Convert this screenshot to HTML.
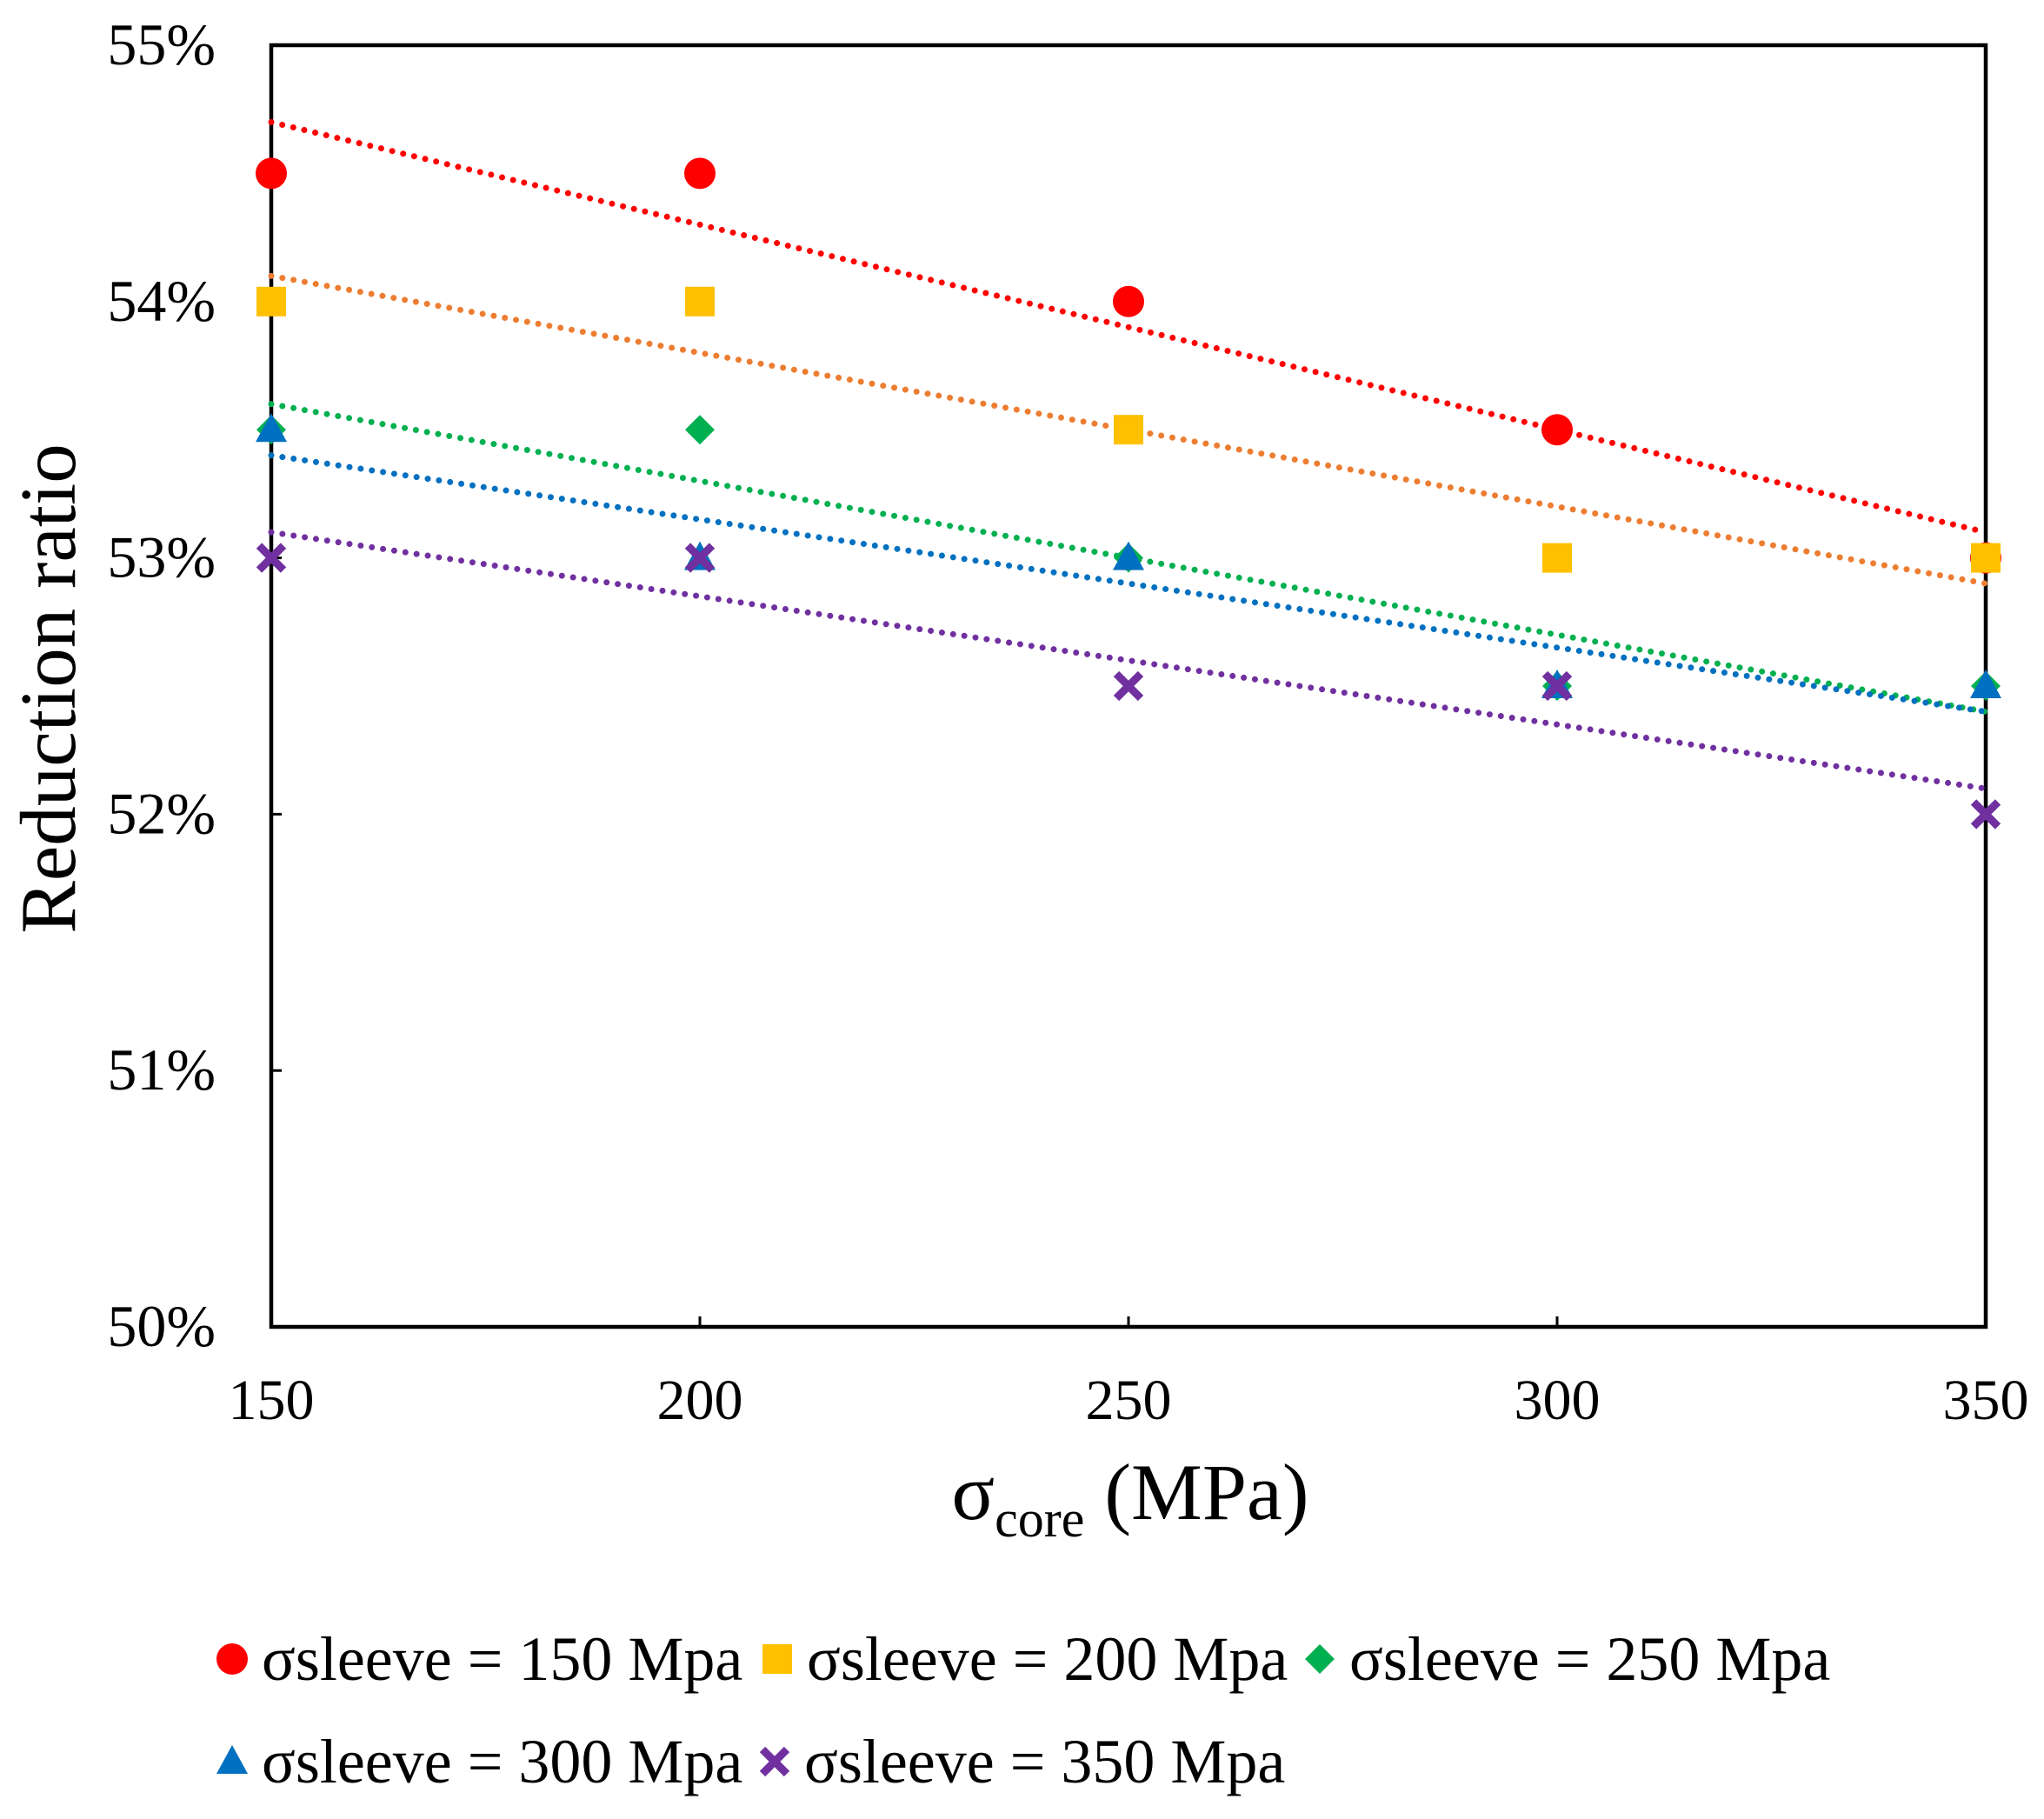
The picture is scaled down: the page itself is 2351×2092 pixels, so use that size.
<!DOCTYPE html>
<html><head><meta charset="utf-8"><style>
html,body{margin:0;padding:0;background:#fff;}
svg{display:block;font-family:"Liberation Serif",serif;}
</style></head><body>
<svg id="chart" width="2351" height="2092" viewBox="0 0 2351 2092" xmlns="http://www.w3.org/2000/svg">
<rect width="2351" height="2092" fill="#fff"/>
<g id="plot"></g>
</svg>
<script>
const xCats = [150, 200, 250, 300, 350];
const yTicks = [0.50, 0.51, 0.52, 0.53, 0.54, 0.55];
const yTickLabels = ["50%", "51%", "52%", "53%", "54%", "55%"];
const s150 = [54.5, 54.5, 54.0, 53.5, 53.0];
const s200 = [54.0, 54.0, 53.5, 53.0, 53.0];
const s250 = [53.5, 53.5, 53.0, 52.5, 52.5];
const s300 = [53.5, 53.0, 53.0, 52.5, 52.5];
const s350 = [53.0, 53.0, 52.5, 52.5, 52.0];
const seriesNames = ["σsleeve = 150 Mpa","σsleeve = 200 Mpa","σsleeve = 250 Mpa","σsleeve = 300 Mpa","σsleeve = 350 Mpa"];

const NS = "http://www.w3.org/2000/svg";
const L = 312, R = 2284, T = 52, B = 1526;
const xs = v => L + (v - 150) / 200 * (R - L);
const ys = v => B - (v - 50) / 5 * (B - T);
const g = document.getElementById('plot');
function mk(tag, attrs, parent) {
  const e = document.createElementNS(NS, tag);
  for (const k in attrs) e.setAttribute(k, attrs[k]);
  (parent || g).appendChild(e);
  return e;
}
const series = [
  {d: s150, mc: "#FF0000", lc: "#FF0000", shape: "circle", key: "150"},
  {d: s200, mc: "#FFC000", lc: "#ED7D31", shape: "square", key: "200"},
  {d: s250, mc: "#00B050", lc: "#00B050", shape: "diamond", key: "250"},
  {d: s300, mc: "#0070C0", lc: "#0070C0", shape: "triangle", key: "300"},
  {d: s350, mc: "#7030A0", lc: "#7030A0", shape: "x", key: "350"}
];
function marker(shape, cx, cy, c, parent) {
  let e;
  if (shape === "circle") e = mk("circle", {cx, cy, r: 18, fill: c}, parent);
  else if (shape === "square") e = mk("rect", {x: cx-17, y: cy-17, width: 34, height: 34, fill: c}, parent);
  else if (shape === "diamond") e = mk("polygon", {points: `${cx},${cy-17} ${cx+17},${cy} ${cx},${cy+17} ${cx-17},${cy}`, fill: c}, parent);
  else if (shape === "triangle") e = mk("polygon", {points: `${cx},${cy-19} ${cx+18},${cy+14} ${cx-18},${cy+14}`, fill: c}, parent);
  else e = mk("path", {d: `M${cx-14},${cy-14}L${cx+14},${cy+14}M${cx+14},${cy-14}L${cx-14},${cy+14}`, stroke: c, "stroke-width": 9}, parent);
  return e;
}
const frame = mk("rect", {x: L, y: T, width: R-L, height: B-T, fill: "none", stroke: "#000", "stroke-width": 4.5});


yTicks.forEach((v, i) => {
  const y = ys(v*100);
  const t = mk("line", {x1: L, x2: L+12, y1: y, y2: y, stroke: "#000", "stroke-width": 3});
  
  
  const tx = mk("text", {x: 248, y: y + 22, "text-anchor": "end", "font-size": 68});
  tx.textContent = yTickLabels[i];
  
  
});
xCats.forEach(v => {
  const x = xs(v);
  const t = mk("line", {x1: x, x2: x, y1: B, y2: B-12, stroke: "#000", "stroke-width": 3});
  
  
  const tx = mk("text", {x: x, y: 1632, "text-anchor": "middle", "font-size": 66});
  tx.textContent = String(v);
  
  
});
series.forEach(s => {
  const n = xCats.length;
  const mx = xCats.reduce((a,b)=>a+b,0)/n, my = s.d.reduce((a,b)=>a+b,0)/n;
  let sxy = 0, sxx = 0;
  for (let i = 0; i < n; i++) { sxy += (xCats[i]-mx)*(s.d[i]-my); sxx += (xCats[i]-mx)**2; }
  const m = sxy/sxx, b = my - m*mx;
  const ln = mk("line", {x1: xs(150), y1: ys(m*150+b), x2: xs(350), y2: ys(m*350+b), stroke: s.lc, "stroke-width": 7, "stroke-linecap": "round", "stroke-dasharray": "0 13"});
  
  
});
series.forEach(s => {
  s.d.forEach((v, i) => {
    const e = marker(s.shape, xs(xCats[i]), ys(v), s.mc);
    
    
  });
});
const xt = mk("text", {x: 1300, y: 1747, "text-anchor": "middle", "font-size": 92});
xt.innerHTML = 'σ<tspan font-size="60" dy="20">core</tspan><tspan dy="-20">  (MPa)</tspan>';


const yt = mk("text", {x: 0, y: 0, "text-anchor": "middle", "font-size": 91, transform: "translate(86,792) rotate(-90)"});
yt.textContent = "Reduction ratio";


const legPos = [[267,1910],[894,1910],[1518,1910],[267,2028],[891,2028]];
series.forEach((s, i) => {
  const [mx, my] = legPos[i];
  const lg = mk("g", {});
  
  
  marker(s.shape, mx, my - 2, s.mc, lg);
  const tx = mk("text", {x: mx + 34, y: my + 22, "font-size": 72}, lg);
  tx.textContent = seriesNames[i];
});
</script>
</body></html>
